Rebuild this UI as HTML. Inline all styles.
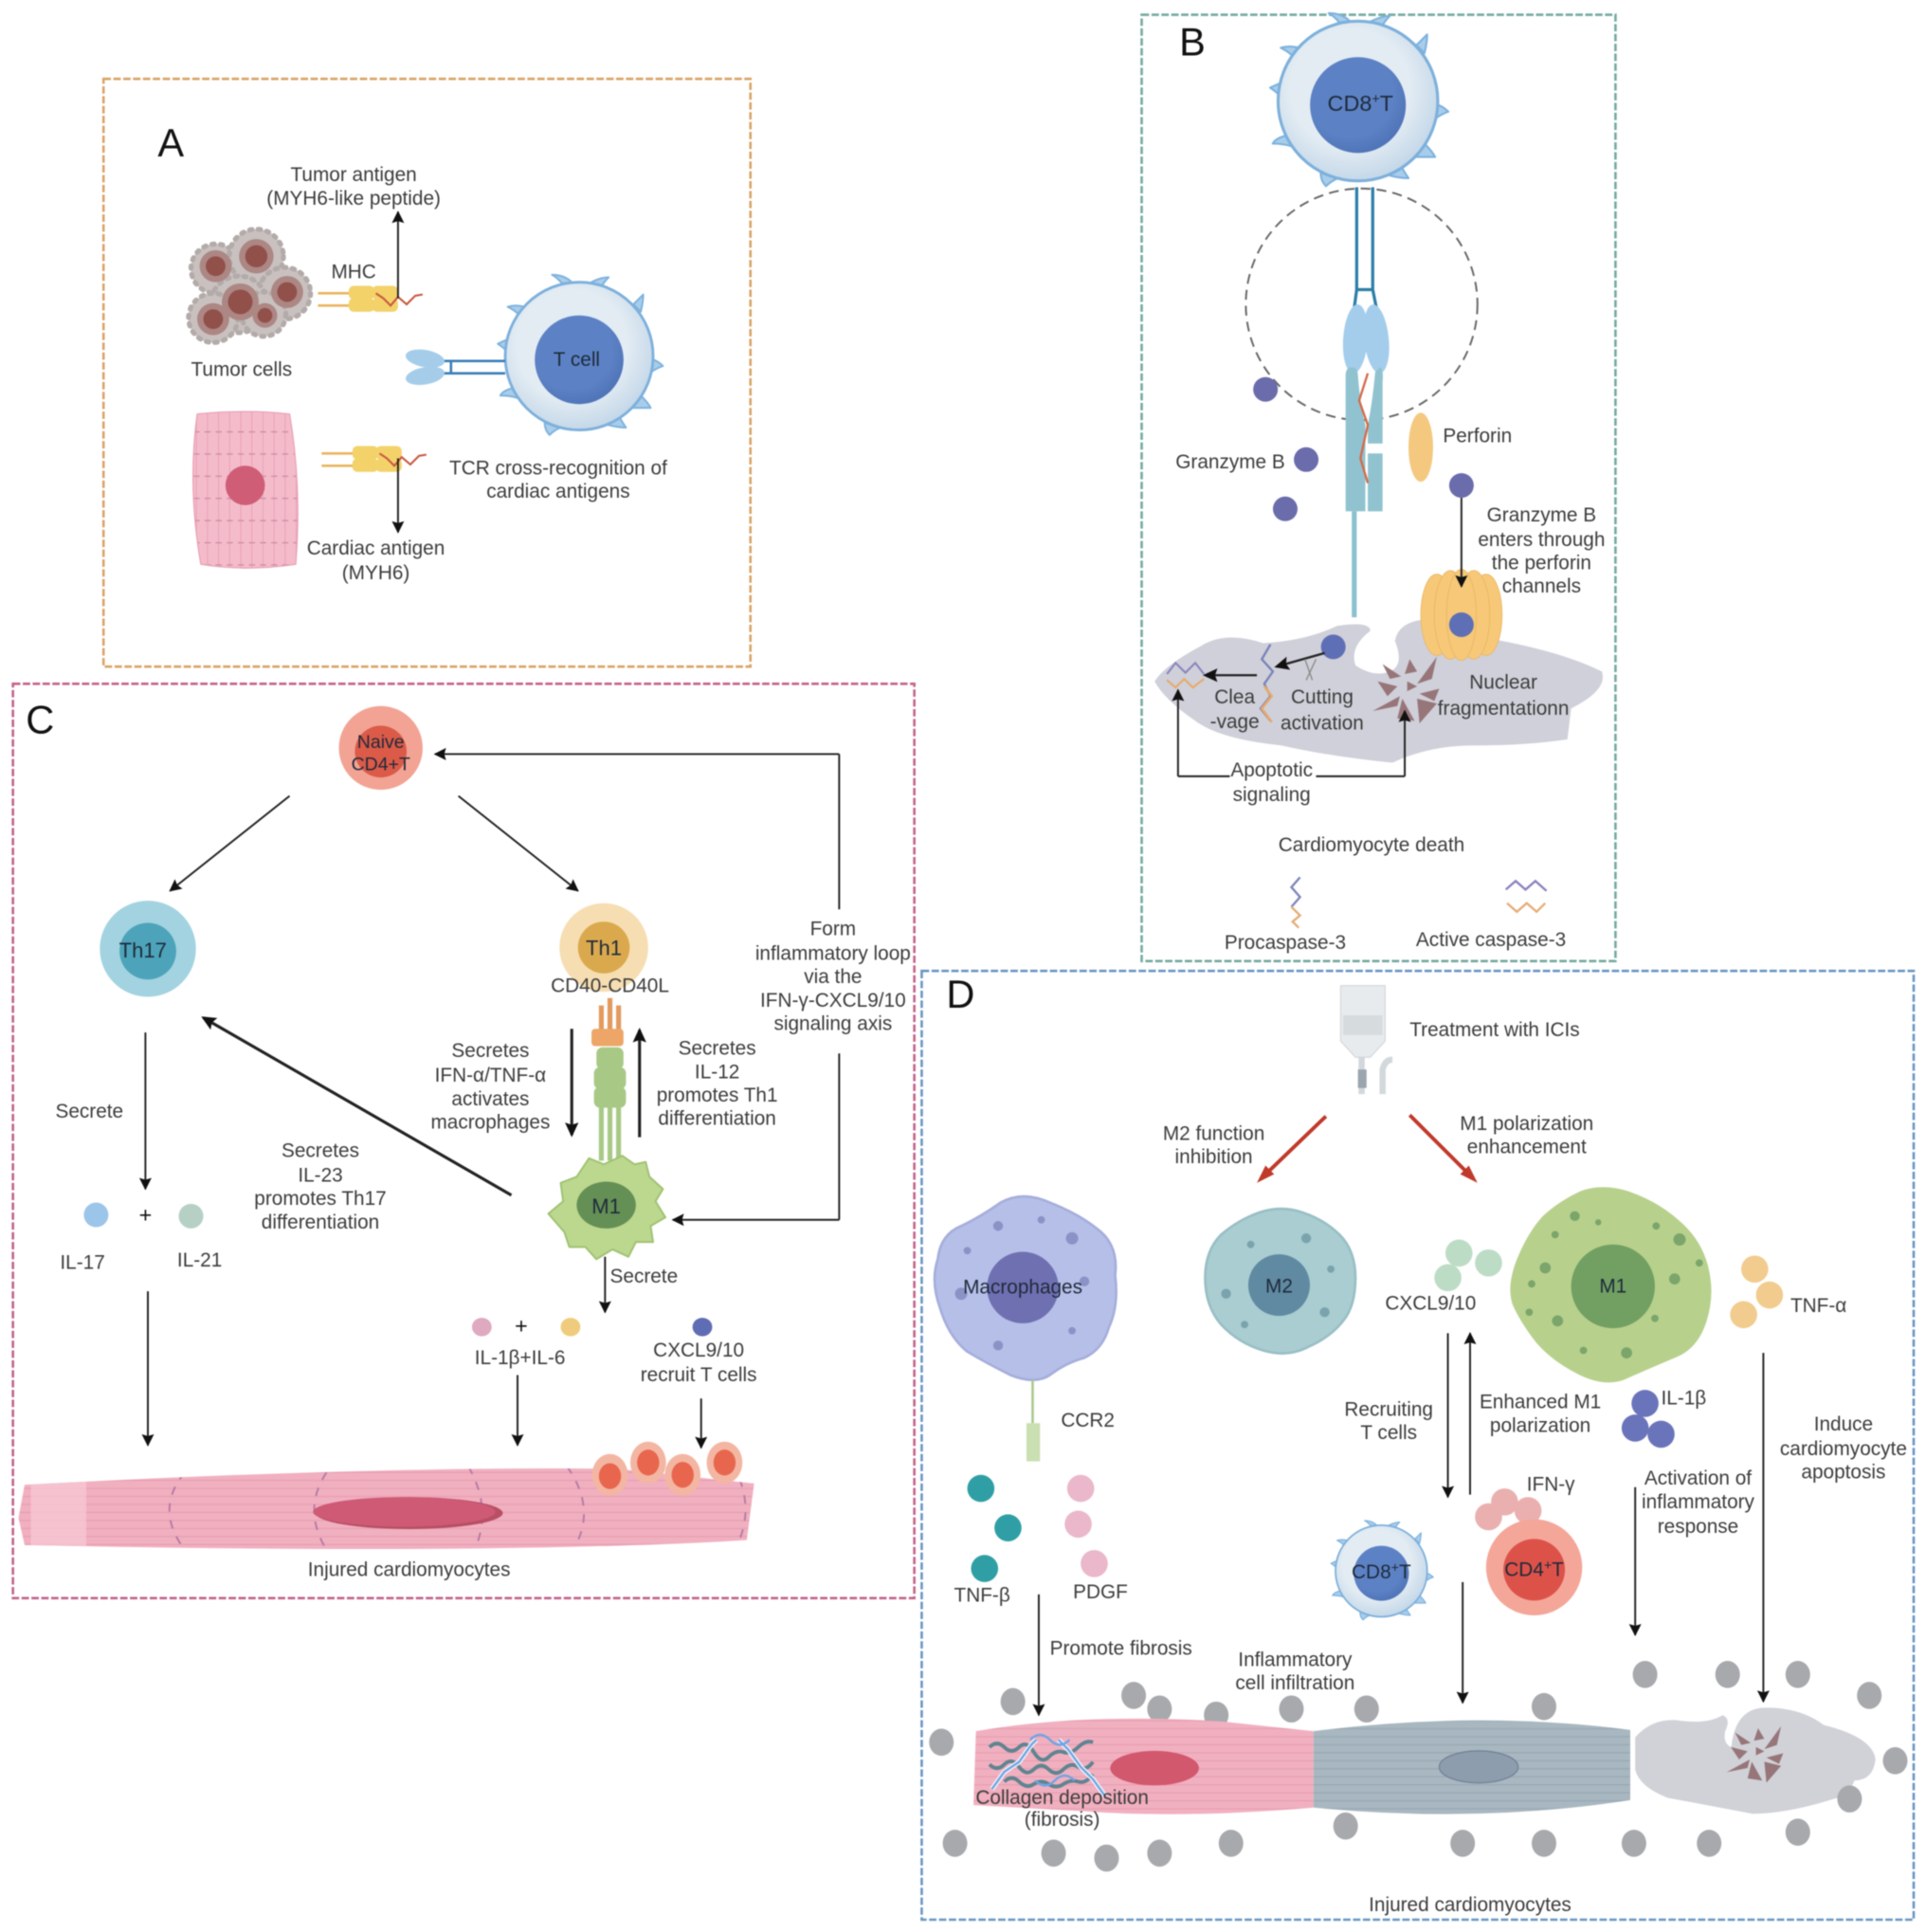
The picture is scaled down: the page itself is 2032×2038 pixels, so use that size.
<!DOCTYPE html>
<html><head><meta charset="utf-8"><style>
html,body{margin:0;padding:0;background:#fff}
svg{display:block;width:2032px;height:2038px;filter:blur(.6px)}
text{font-family:"Liberation Sans",sans-serif;font-size:16px;fill:#3c3c3c}
.m{text-anchor:middle}
.h{font-size:32px;fill:#111}
.c{fill:#1e2a3a}
.a{stroke:#222;stroke-width:1.5;fill:none;marker-end:url(#ah)}
.t{stroke:#222;stroke-width:2.4;fill:none;marker-end:url(#ah2)}
.l{stroke:#222;stroke-width:1.5;fill:none}
</style></head><body>
<svg xmlns="http://www.w3.org/2000/svg" viewBox="0 0 1563 1568" preserveAspectRatio="none">
<defs>
<marker id="ah" markerWidth="12" markerHeight="12" refX="9" refY="5" orient="auto" markerUnits="userSpaceOnUse"><path d="M0,0 L10,5 L0,10 L1.500,5Z" fill="#111"/></marker>
<marker id="ah2" markerWidth="14" markerHeight="14" refX="10" refY="5.5" orient="auto" markerUnits="userSpaceOnUse"><path d="M0,0 L12,5.5 L0,11 L2,5.5Z" fill="#111"/></marker>
<radialGradient id="gT" cx=".45" cy=".42" r=".6"><stop offset=".62" stop-color="#e3ecf3"/><stop offset="1" stop-color="#c2d6e8"/></radialGradient>
<radialGradient id="gN" cx=".42" cy=".38" r=".7"><stop offset=".65" stop-color="#5c82c5"/><stop offset="1" stop-color="#4a6fb3"/></radialGradient>
<pattern id="stripeP" width="40" height="6.5" patternUnits="userSpaceOnUse"><rect width="40" height="6.5" fill="#f1b0c0"/><rect y="5" width="40" height="1" fill="#e89fb2"/></pattern>
<pattern id="stripeG" width="40" height="6.5" patternUnits="userSpaceOnUse"><rect width="40" height="6.5" fill="#a8b7c0"/><rect y="5" width="40" height="1" fill="#98a9b4"/></pattern>
<pattern id="stripeV" width="9" height="18" patternUnits="userSpaceOnUse"><rect width="9" height="18" fill="#f4bccb"/><rect x="6" width=".8" height="18" fill="#e9a3b7"/><rect x="4" y="8" width="5" height="1" fill="#cf8aa3"/></pattern>
<g id="tc">
<g fill="#a8cdea" stroke="#7db2de" stroke-width="1.5" stroke-linejoin="round">
<path d="M-14,-59 Q-18,-64 -22,-66 Q-12,-66 -6,-60Z M10,-60 Q18,-64 24,-64 Q20,-60 18,-56Z M-44,-40 Q-52,-42 -58,-40 Q-50,-36 -48,-32Z M44,-42 Q50,-48 52,-50 Q52,-44 50,-36Z M-57,-14 Q-62,-12 -66,-10 Q-60,-6 -58,-3Z M58,2 Q64,4 68,8 Q62,10 57,14Z M-54,26 Q-62,28 -64,32 Q-56,32 -50,34Z M50,32 Q56,38 58,42 Q50,42 44,42Z M-28,54 Q-28,60 -24,64 Q-20,60 -15,58Z M24,56 Q32,58 38,58 Q34,52 32,48Z"/>
</g>
<circle r="60" fill="url(#gT)" stroke="#7db0dc" stroke-width="2.2"/>
<circle cx="0" cy="3" r="36" fill="url(#gN)"/>
</g>
<g id="mhc">
<path d="M0,-5 H30 M0,5 H30" stroke="#eab45f" stroke-width="2" fill="none"/>
<rect x="25" y="-11" width="21" height="11" rx="4" fill="#f3d26a"/><rect x="25" y="-1" width="21" height="11" rx="4" fill="#f3d26a"/>
<rect x="44" y="-11" width="21" height="11" rx="4" fill="#f3d26a"/><rect x="44" y="-1" width="21" height="11" rx="4" fill="#f3d26a"/>
<path d="M47,-5 L53,-1 L59,5 L65,-2 L72,4 L79,-3 L85,-4" stroke="#c9583f" stroke-width="1.6" fill="none"/>
</g>
<g id="frag" fill="#97767a">
<path d="M-20,-20 L-5,-10 L-14,-8Z M2,-24 L-2,-12 L8,-14Z M24,-26 L8,-4 L20,-8Z M-24,-6 L-8,-2 L-16,6Z M0,-6 L8,-2 L0,2Z M26,0 L10,4 L22,10Z M-28,18 L-6,6 L-8,14Z M-4,8 L6,26 L-8,24Z M8,8 L24,12 L10,28Z"/>
</g>
<clipPath id="cmC"><path id="cmP" d="M20,1205 Q300,1190 500,1192 L612,1204 L606,1250 Q400,1262 20,1254 L15,1232Z"/></clipPath>
</defs>
<rect width="1563" height="1568" fill="#fff"/>

<!-- Panel frames -->
<rect x="84" y="64" width="525" height="477" fill="none" stroke="#d9a467" stroke-width="2" stroke-dasharray="6 2"/>
<rect x="926.500" y="12" width="384.500" height="768" fill="none" stroke="#74a99f" stroke-width="2" stroke-dasharray="6 2"/>
<rect x="10.500" y="555" width="731.500" height="742" fill="none" stroke="#c3648a" stroke-width="2" stroke-dasharray="6 2"/>
<rect x="748" y="788" width="805" height="770" fill="none" stroke="#6a97c4" stroke-width="2" stroke-dasharray="6 2"/>
<text class="h" x="128" y="127">A</text>
<text class="h" x="957" y="45">B</text>
<text class="h" x="21" y="595">C</text>
<text class="h" x="768" y="818">D</text>

<!-- PANEL A -->
<g fill="#c9c1bf" stroke="#b3aba9" stroke-width="4" stroke-dasharray="2 5" stroke-linecap="round">
<circle cx="175" cy="218" r="20"/><circle cx="208" cy="208" r="22"/><circle cx="231" cy="238" r="21"/><circle cx="194" cy="247" r="23"/><circle cx="173" cy="258" r="20"/><circle cx="214" cy="255" r="18"/>
</g>
<g fill="#ac8784"><circle cx="175" cy="216" r="13"/><circle cx="208" cy="208" r="14"/><circle cx="233" cy="237" r="13"/><circle cx="195" cy="245" r="15"/><circle cx="173" cy="259" r="13"/><circle cx="215" cy="256" r="10"/></g>
<g fill="#92504a"><circle cx="175" cy="216" r="8"/><circle cx="208" cy="208" r="9"/><circle cx="233" cy="237" r="8"/><circle cx="195" cy="245" r="10"/><circle cx="173" cy="259" r="8"/><circle cx="215" cy="256" r="6"/></g>
<use href="#mhc" transform="translate(258,243)"/>
<use href="#mhc" transform="translate(261,373)"/>
<path class="a" d="M323,242 V172"/>
<path class="a" d="M323,372 V432"/>
<text class="m" x="287" y="147">Tumor antigen</text>
<text class="m" x="287" y="166">(MYH6-like peptide)</text>
<text class="m" x="287" y="226">MHC</text>
<text class="m" x="196" y="305">Tumor cells</text>
<path d="M160,336 Q200,332 235,336 Q245,395 240,458 Q200,464 163,458 Q152,395 160,336Z" fill="url(#stripeV)" stroke="#e9a3b7"/>
<ellipse cx="199" cy="394" rx="16" ry="16" fill="#cf5d76"/>
<text class="m" x="305" y="450">Cardiac antigen</text>
<text class="m" x="305" y="470">(MYH6)</text>
<text class="m" x="453" y="385">TCR cross-recognition of</text>
<text class="m" x="453" y="404">cardiac antigens</text>
<use href="#tc" transform="translate(470,289)"/>
<path d="M356,293 H410 M356,303 H410 M366,293 V303" stroke="#3a7fb8" stroke-width="2" fill="none"/>
<ellipse cx="345" cy="291" rx="16" ry="7" transform="rotate(10 345 291)" fill="#a5cdea"/>
<ellipse cx="345" cy="305" rx="16" ry="7" transform="rotate(-10 345 305)" fill="#a5cdea"/>
<text class="m c" x="468" y="297">T cell</text>

<!-- PANEL B -->
<use href="#tc" transform="translate(1102,82) scale(1.08)"/>
<text class="m c" x="1104" y="90" style="font-size:18px">CD8<tspan dy="-6" style="font-size:11px">+</tspan><tspan dy="6">T</tspan></text>
<circle cx="1105" cy="247" r="94" fill="none" stroke="#666" stroke-width="1.5" stroke-dasharray="8 5"/>
<path d="M1101,152 V235 L1099,250 M1114,152 V235 L1117,250 M1101,235 H1114" stroke="#2c7fa8" stroke-width="2.5" fill="none"/>
<ellipse cx="1100" cy="275" rx="10" ry="28" transform="rotate(4 1100 275)" fill="#a4cdec"/>
<ellipse cx="1117" cy="275" rx="10" ry="28" transform="rotate(-6 1117 275)" fill="#a4cdec"/>
<path d="M1092,305 Q1092,298 1097,298 Q1102,298 1102,305 Q1104,330 1108,345 V415 H1092Z" fill="#90c3cf"/>
<path d="M1120,298 Q1123,300 1122,310 V360 H1110 V345 Q1114,325 1116,302Z" fill="#90c3cf"/>
<rect x="1110" y="368" width="12" height="47" fill="#90c3cf"/>
<rect x="1097" y="415" width="4" height="86" fill="#8ac2d0"/>
<path d="M1110,303 L1103,325 L1110,345 L1104,372 L1110,392" stroke="#d4694a" stroke-width="1.8" fill="none"/>
<g fill="#6a6cab">
<circle cx="1027" cy="316" r="10"/><circle cx="1060" cy="373" r="10"/><circle cx="1043" cy="413" r="10"/><circle cx="1186" cy="394" r="10"/>
</g>
<ellipse cx="1153" cy="363" rx="10" ry="28" fill="#f4c97f"/>
<text x="954" y="380">Granzyme B</text>
<text x="1171" y="359">Perforin</text>
<text class="m" x="1251" y="423">Granzyme B</text>
<text class="m" x="1251" y="443">enters through</text>
<text class="m" x="1251" y="462">the perforin</text>
<text class="m" x="1251" y="481">channels</text>
<path d="M937,553 Q945,540 975,524 Q995,512 1025,522 Q1060,520 1085,508 Q1112,504 1112,512 Q1095,525 1100,540 Q1115,550 1128,545 Q1140,540 1132,520 Q1135,505 1155,503 L1218,520 Q1270,530 1300,545 Q1305,560 1275,575 L1272,600 Q1240,605 1195,605 Q1160,605 1130,619 Q1080,614 1040,605 Q990,600 970,585 Q945,568 937,553Z" fill="#cfd0d9"/>
<g fill="#f6c878" stroke="#eab560" stroke-width=".6">
<ellipse cx="1166" cy="499" rx="13" ry="33"/><ellipse cx="1206" cy="499" rx="13" ry="33"/><ellipse cx="1177" cy="499" rx="13" ry="36"/><ellipse cx="1196" cy="499" rx="13" ry="36"/><ellipse cx="1186" cy="499" rx="12" ry="37"/>
</g>
<circle cx="1186" cy="507" r="10" fill="#5e6fb5"/>
<path class="a" d="M1186,404 V476"/>
<circle cx="1082" cy="525" r="10" fill="#5e6fb5"/>
<path class="t" d="M1075,530 L1036,541" style="stroke-width:1.8"/>
<path class="t" d="M1020,548 L978,548" style="stroke-width:1.8"/>
<path d="M1031,523 L1024,535 L1033,545 L1026,555 L1031,565 L1023,575 L1031,585" stroke="#7b82b8" stroke-width="1.8" fill="none"/>
<path d="M1026,557 L1032,565 L1024,575 L1032,586" stroke="#e9a96a" stroke-width="2" fill="none"/>
<path d="M947,547 L954,538 L962,546 L970,538 L977,547" stroke="#8a84c0" stroke-width="1.6" fill="none"/>
<path d="M947,552 L954,558 L961,551 L968,558 L977,551" stroke="#e9a96a" stroke-width="1.6" fill="none"/>
<path d="M1059,535 L1065,552 M1068,535 L1060,552" stroke="#888" stroke-width="1"/>
<use href="#frag" transform="translate(1142,559)"/>
<text class="m" x="1002" y="571">Clea</text><text class="m" x="1002" y="591">-vage</text>
<text class="m" x="1073" y="571">Cutting</text><text class="m" x="1073" y="592">activation</text>
<text class="m" x="1220" y="559">Nuclear</text><text class="m" x="1220" y="580">fragmentationn</text>
<path class="l" d="M998,630 H956"/><path class="a" d="M956,630 V560"/>
<path class="l" d="M1068,630 H1140"/><path class="a" d="M1140,630 V577"/>
<text class="m" x="1032" y="630">Apoptotic</text><text class="m" x="1032" y="650">signaling</text>
<text class="m" x="1113" y="691">Cardiomyocyte death</text>
<path d="M1055,712 L1048,720 L1055,728 L1048,736" stroke="#8085bc" stroke-width="1.8" fill="none"/>
<path d="M1048,736 L1055,743 L1049,748 L1054,753" stroke="#e6ad78" stroke-width="1.8" fill="none"/>
<path d="M1222,722 L1230,715 L1238,722 L1246,715 L1255,723" stroke="#8a84c0" stroke-width="1.8" fill="none"/>
<path d="M1223,733 L1231,740 L1239,733 L1247,740 L1254,733" stroke="#e6ad78" stroke-width="1.8" fill="none"/>
<text class="m" x="1043" y="770">Procaspase-3</text>
<text class="m" x="1210" y="768">Active caspase-3</text>

<!-- PANEL C -->
<circle cx="309" cy="607" r="34" fill="#f2a394"/><circle cx="309" cy="610" r="21" fill="#db5a48"/>
<text class="m c" x="309" y="607" style="font-size:15px">Naive</text>
<text class="m c" x="309" y="625" style="font-size:15px">CD4+T</text>
<path class="a" d="M235,646 L138,723"/><path class="a" d="M372,646 L469,723"/>
<circle cx="120" cy="770" r="39" fill="#a3d3e0"/><circle cx="120" cy="772" r="23" fill="#4da4ba"/>
<text class="m c" x="116" y="777" style="font-size:17px">Th17</text>
<circle cx="490" cy="769" r="36" fill="#f6deb2"/><circle cx="490" cy="769" r="21" fill="#dba94d"/>
<text class="m c" x="490" y="775" style="font-size:17px">Th1</text>
<text class="m" x="495" y="805">CD40-CD40L</text>
<g fill="#e39a5f"><rect x="486" y="816" width="4" height="22"/><rect x="493" y="810" width="4" height="28"/><rect x="500" y="816" width="4" height="22"/></g>
<rect x="480" y="835" width="26" height="14" rx="3" fill="#eda667"/>
<g fill="#a8c986"><rect x="484" y="850" width="22" height="18" rx="5"/><rect x="482" y="866" width="26" height="18" rx="5"/><rect x="482" y="882" width="26" height="17" rx="5"/>
<rect x="486" y="898" width="4" height="44"/><rect x="493" y="898" width="4" height="44"/><rect x="500" y="898" width="4" height="44"/></g>
<path class="t" d="M464,835 V921"/><path class="t" d="M519,923 V836"/>
<text class="m" x="398" y="858">Secretes</text><text class="m" x="398" y="878">IFN-α/TNF-α</text><text class="m" x="398" y="897">activates</text><text class="m" x="398" y="916">macrophages</text>
<text class="m" x="582" y="856">Secretes</text><text class="m" x="582" y="875">IL-12</text><text class="m" x="582" y="894">promotes Th1</text><text class="m" x="582" y="913">differentiation</text>
<path d="M478,940 L490,945 L505,938 L515,945 L524,943 L527,955 L538,965 L532,975 L540,988 L528,995 L530,1008 L516,1008 L510,1020 L497,1014 L484,1022 L475,1012 L462,1012 L458,1000 L445,985 L457,975 L455,960 L468,955Z" fill="#bcd78e" stroke="#9fc272" stroke-width="1.5" stroke-linejoin="round"/>
<ellipse cx="492" cy="978" rx="24" ry="19" fill="#648f55"/>
<text class="m c" x="492" y="985" style="font-size:17px">M1</text>
<path class="a" d="M491,1020 V1065"/>
<text x="495" y="1041">Secrete</text>
<text class="m" x="676" y="759">Form</text><text class="m" x="676" y="779">inflammatory loop</text><text class="m" x="676" y="798">via the</text><text class="m" x="676" y="817">IFN-γ-CXCL9/10</text><text class="m" x="676" y="836">signaling axis</text>
<path class="l" d="M681,738 V612"/><path class="a" d="M681,612 H353"/>
<path class="l" d="M681,855 V990"/><path class="a" d="M681,990 H546"/>
<path class="t" d="M415,970 L165,826"/>
<path class="a" d="M118,838 V965"/>
<text x="45" y="907">Secrete</text>
<circle cx="78" cy="986" r="10" fill="#9cc5ea"/><circle cx="155" cy="987" r="10" fill="#b6d0c6"/>
<text class="m" x="118" y="992" style="font-size:18px;fill:#111">+</text>
<text class="m" x="67" y="1030">IL-17</text><text class="m" x="162" y="1028">IL-21</text>
<text class="m" x="260" y="939">Secretes</text><text class="m" x="260" y="959">IL-23</text><text class="m" x="260" y="978">promotes Th17</text><text class="m" x="260" y="997">differentiation</text>
<path class="a" d="M120,1048 V1173"/>
<ellipse cx="391" cy="1077" rx="8" ry="7.500" fill="#dfa9bf"/><ellipse cx="463" cy="1077" rx="8" ry="7.500" fill="#efcc7d"/><ellipse cx="570" cy="1077" rx="8" ry="7.500" fill="#5f6db4"/>
<text class="m" x="423" y="1082" style="font-size:18px;fill:#111">+</text>
<text class="m" x="422" y="1107">IL-1β+IL-6</text>
<text class="m" x="567" y="1101">CXCL9/10</text><text class="m" x="567" y="1121">recruit T cells</text>
<path class="a" d="M420,1116 V1173"/><path class="a" d="M569,1135 V1175"/>
<use href="#cmP" fill="url(#stripeP)"/>
<rect x="25" y="1200" width="45" height="58" fill="#f8cbd7" opacity=".7" clip-path="url(#cmC)"/>
<g stroke="#b57ba4" stroke-width="1.500" stroke-dasharray="7 7" fill="none" clip-path="url(#cmC)"><path d="M150,1195 Q125,1225 150,1258 M265,1195 Q245,1225 265,1258 M380,1190 Q400,1225 385,1258 M460,1190 Q485,1225 465,1258 M600,1200 Q610,1225 600,1250"/></g>
<ellipse cx="332" cy="1228" rx="76" ry="13" fill="#b84f64"/>
<ellipse cx="328" cy="1227" rx="74" ry="12" fill="#cf5a76"/>
<g fill="#f3b6a3"><ellipse cx="495" cy="1197" rx="14.500" ry="17"/><ellipse cx="526" cy="1187" rx="14.500" ry="17"/><ellipse cx="554" cy="1197" rx="14.500" ry="17"/><ellipse cx="588" cy="1187" rx="14.500" ry="17"/></g>
<g fill="#e8664d"><ellipse cx="495" cy="1198" rx="9" ry="10.500"/><ellipse cx="526" cy="1187" rx="9" ry="10.500"/><ellipse cx="554" cy="1197" rx="9" ry="10.500"/><ellipse cx="588" cy="1187" rx="9" ry="10.500"/></g>
<text class="m" x="332" y="1279">Injured cardiomyocytes</text>

<!-- PANEL D -->
<path d="M1088,800 H1124 V845 L1112,858 H1100 L1088,845Z" fill="#e8ebed" stroke="#d5dade"/>
<rect x="1090" y="824" width="32" height="16" fill="#d6dbde"/>
<path d="M1105,858 V888 M1122,888 V868 Q1124,860 1130,860" stroke="#d3d8dc" stroke-width="5" fill="none"/>
<rect x="1102" y="868" width="7" height="15" fill="#9aa5ae"/>
<text x="1144" y="841">Treatment with ICIs</text>
<path d="M1076,906 L1024,956" stroke="#c0392b" stroke-width="3" fill="none"/><path d="M1020,960 L1027,946 L1034,953Z" fill="#c0392b"/>
<path d="M1144,905 L1195,956" stroke="#c0392b" stroke-width="3" fill="none"/><path d="M1199,960 L1185,953 L1192,946Z" fill="#c0392b"/>
<text class="m" x="985" y="925">M2 function</text><text class="m" x="985" y="944">inhibition</text>
<text class="m" x="1239" y="917">M1 polarization</text><text class="m" x="1239" y="936">enhancement</text>

<path d="M852,976 Q875,985 890,997 Q908,1010 905,1035 Q908,1060 900,1077 Q895,1095 880,1102 Q865,1106 852,1116 Q840,1124 820,1116 Q800,1106 785,1097 Q770,1085 763,1062 Q755,1040 761,1022 Q763,1002 780,995 Q795,988 812,976 Q830,966 852,976Z" fill="#b6bfe8" stroke="#a5aedb" stroke-width="2"/>
<circle cx="830" cy="1045" r="29" fill="#6e70b1"/>
<g fill="#8b92c6"><circle cx="810" cy="995" r="4"/><circle cx="845" cy="990" r="3"/><circle cx="870" cy="1005" r="5"/><circle cx="785" cy="1015" r="3"/><circle cx="880" cy="1040" r="4"/><circle cx="780" cy="1050" r="5"/><circle cx="870" cy="1080" r="3"/><circle cx="810" cy="1092" r="4"/></g>
<text class="m c" x="830" y="1050">Macrophages</text>
<path d="M838,1120 V1155" stroke="#a9c88c" stroke-width="2"/><rect x="833" y="1155" width="11" height="31" fill="#cadfb2"/>
<text x="861" y="1158">CCR2</text>
<g fill="#2f9fa5"><circle cx="796" cy="1208" r="11"/><circle cx="818" cy="1240" r="11"/><circle cx="799" cy="1273" r="11"/></g>
<g fill="#eab7cb"><circle cx="877" cy="1208" r="11"/><circle cx="875" cy="1237" r="11"/><circle cx="888" cy="1269" r="11"/></g>
<text class="m" x="797" y="1300">TNF-β</text><text class="m" x="893" y="1297">PDGF</text>
<path class="a" d="M843,1294 V1392"/>
<text x="852" y="1343">Promote fibrosis</text>

<path d="M1057,984 Q1075,990 1087,1002 Q1100,1015 1100,1037 Q1100,1060 1090,1072 Q1080,1085 1062,1093 Q1045,1102 1025,1096 Q1005,1090 991,1075 Q978,1060 978,1037 Q978,1015 991,1002 Q1005,990 1022,984 Q1040,978 1057,984Z" fill="#a9cdd1" stroke="#98bfc5" stroke-width="2"/>
<circle cx="1038" cy="1043" r="25" fill="#5f8aa1"/>
<g fill="#7ba3ad"><circle cx="1015" cy="1010" r="3"/><circle cx="1060" cy="1005" r="4"/><circle cx="1080" cy="1030" r="3"/><circle cx="995" cy="1050" r="4"/><circle cx="1075" cy="1065" r="4"/><circle cx="1010" cy="1075" r="3"/></g>
<text class="m c" x="1038" y="1049">M2</text>

<g fill="#bddcc5"><circle cx="1184" cy="1017" r="11"/><circle cx="1208" cy="1025" r="11"/><circle cx="1175" cy="1037" r="11"/></g>
<text class="m" x="1161" y="1063">CXCL9/10</text>
<path d="M1322,967 Q1345,975 1362,990 Q1380,1005 1386,1027 Q1392,1050 1385,1072 Q1378,1095 1359,1102 Q1340,1110 1322,1118 Q1305,1127 1282,1116 Q1260,1105 1247,1090 Q1235,1075 1228,1060 Q1222,1045 1231,1022 Q1240,1000 1252,987 Q1265,975 1282,967 Q1300,960 1322,967Z" fill="#b7d18d"/>
<circle cx="1309" cy="1044" r="34" fill="#72a062"/>
<g fill="#7ba56a"><circle cx="1278" cy="987" r="4"/><circle cx="1297" cy="992" r="2.500"/><circle cx="1344" cy="995" r="3"/><circle cx="1363" cy="1006" r="5"/><circle cx="1262" cy="1002" r="3"/><circle cx="1254" cy="1029" r="4.500"/><circle cx="1379" cy="1025" r="3"/><circle cx="1359" cy="1038" r="4.500"/><circle cx="1243" cy="1042" r="3"/><circle cx="1241" cy="1065" r="3"/><circle cx="1264" cy="1072" r="4.500"/><circle cx="1343" cy="1070" r="3"/><circle cx="1320" cy="1098" r="4.500"/><circle cx="1285" cy="1096" r="3"/></g>
<text class="m c" x="1309" y="1049">M1</text>
<g fill="#f1cc8e"><circle cx="1424" cy="1030" r="11"/><circle cx="1436" cy="1051" r="11"/><circle cx="1415" cy="1067" r="11"/></g>
<text x="1453" y="1065">TNF-α</text>
<g fill="#6a74ba"><circle cx="1335" cy="1139" r="11"/><circle cx="1327" cy="1159" r="11"/><circle cx="1348" cy="1164" r="11"/></g>
<text x="1348" y="1140">IL-1β</text>
<path class="a" d="M1175,1082 V1215"/><path class="a" d="M1193,1213 V1082"/>
<text class="m" x="1127" y="1149">Recruiting</text><text class="m" x="1127" y="1168">T cells</text>
<text class="m" x="1250" y="1143">Enhanced M1</text><text class="m" x="1250" y="1162">polarization</text>
<text x="1239" y="1210">IFN-γ</text>
<g fill="#eab0b0"><circle cx="1221" cy="1219" r="11"/><circle cx="1208" cy="1231" r="11"/><circle cx="1240" cy="1226" r="11"/></g>
<circle cx="1245" cy="1272" r="39" fill="#f4a699"/><circle cx="1245" cy="1274" r="25" fill="#dc5249"/>
<text class="m c" x="1245" y="1279">CD4<tspan dy="-5" style="font-size:11px">+</tspan><tspan dy="5">T</tspan></text>
<use href="#tc" transform="translate(1121,1275) scale(.62)"/>
<text class="m c" x="1121" y="1281">CD8<tspan dy="-5" style="font-size:11px">+</tspan><tspan dy="5">T</tspan></text>
<path class="a" d="M1187,1284 V1382"/>
<text class="m" x="1378" y="1205">Activation of</text><text class="m" x="1378" y="1224">inflammatory</text><text class="m" x="1378" y="1244">response</text>
<path class="a" d="M1327,1207 V1327"/>
<text class="m" x="1496" y="1161">Induce</text><text class="m" x="1496" y="1181">cardiomyocyte</text><text class="m" x="1496" y="1200">apoptosis</text>
<path class="a" d="M1431,1098 V1381"/>
<text class="m" x="1051" y="1352">Inflammatory</text><text class="m" x="1051" y="1371">cell infiltration</text>

<g fill="#a7a9ad">
<ellipse cx="764" cy="1414" rx="10" ry="11"/><ellipse cx="822" cy="1381" rx="10" ry="11"/><ellipse cx="920" cy="1376" rx="10" ry="11"/><ellipse cx="941" cy="1387" rx="10" ry="11"/><ellipse cx="987" cy="1392" rx="10" ry="11"/><ellipse cx="1048" cy="1387" rx="10" ry="11"/><ellipse cx="1109" cy="1387" rx="10" ry="11"/><ellipse cx="1253" cy="1385" rx="10" ry="11"/><ellipse cx="1335" cy="1359" rx="10" ry="11"/><ellipse cx="1402" cy="1359" rx="10" ry="11"/><ellipse cx="1459" cy="1359" rx="10" ry="11"/><ellipse cx="1517" cy="1376" rx="10" ry="11"/><ellipse cx="1538" cy="1429" rx="10" ry="11"/><ellipse cx="1092" cy="1482" rx="10" ry="11"/><ellipse cx="775" cy="1496" rx="10" ry="11"/><ellipse cx="855" cy="1504" rx="10" ry="11"/><ellipse cx="898" cy="1508" rx="10" ry="11"/><ellipse cx="941" cy="1504" rx="10" ry="11"/><ellipse cx="999" cy="1496" rx="10" ry="11"/><ellipse cx="1187" cy="1496" rx="10" ry="11"/><ellipse cx="1253" cy="1496" rx="10" ry="11"/><ellipse cx="1326" cy="1496" rx="10" ry="11"/><ellipse cx="1387" cy="1496" rx="10" ry="11"/><ellipse cx="1459" cy="1487" rx="10" ry="11"/>
</g>
<path d="M792,1405 Q880,1390 990,1397 L1066,1405 V1467 Q960,1476 880,1470 L790,1465Z" fill="url(#stripeP)"/>
<path d="M1066,1405 Q1200,1388 1323,1404 V1461 Q1200,1480 1066,1467Z" fill="url(#stripeG)"/>
<ellipse cx="937" cy="1435" rx="36" ry="14" fill="#d2586e"/>
<ellipse cx="1200" cy="1434" rx="32" ry="13" fill="#8d9dad" stroke="#728397"/>
<path d="M1327,1410 Q1340,1395 1360,1396 Q1385,1400 1398,1392 Q1405,1395 1400,1405 Q1398,1415 1405,1418 Q1408,1388 1430,1386 Q1460,1385 1480,1400 Q1520,1410 1522,1428 Q1520,1445 1505,1445 Q1500,1458 1488,1460 Q1450,1472 1422,1472 Q1385,1465 1353,1459 Q1330,1450 1327,1436Z" fill="#d0d2d7"/>
<ellipse cx="1501" cy="1460" rx="10" ry="11" fill="#a7a9ad"/>
<use href="#frag" transform="translate(1425,1423) scale(.85)"/>
<g fill="none">
<path d="M803,1418 q6,-6 12,0 t12,0 t12,4 t12,4 t12,-4 t12,-4 t12,-4" stroke="#5f8490" stroke-width="3"/>
<path d="M803,1432 q6,6 12,0 t12,2 t12,2 t12,0 t12,0 t12,-2 t12,-4" stroke="#5f8490" stroke-width="3"/>
<path d="M815,1446 q6,-6 12,0 t12,2 t12,0 t12,0 t12,-2 t12,-6" stroke="#5f8490" stroke-width="3"/>
<path d="M805,1452 l10,-14 l12,-8 l10,-14 l4,-4 m18,0 l8,8 l10,14 l10,10 l10,14" stroke="#f0f4fa" stroke-width="4"/>
<path d="M805,1452 l10,-14 l12,-8 l10,-14 l4,-4 m18,0 l8,8 l10,14 l10,10 l10,14" stroke="#6fa4e4" stroke-width="1.800"/>
<path d="M836,1412 q8,-8 16,0 t16,0 M840,1445 q8,8 16,0 t16,0" stroke="#6fa4e4" stroke-width="1.800"/>
</g>
<text class="m" x="862" y="1464">Collagen deposition</text>
<text class="m" x="862" y="1482">(fibrosis)</text>
<text class="m" x="1193" y="1551">Injured cardiomyocytes</text>
</svg>
</body></html>
